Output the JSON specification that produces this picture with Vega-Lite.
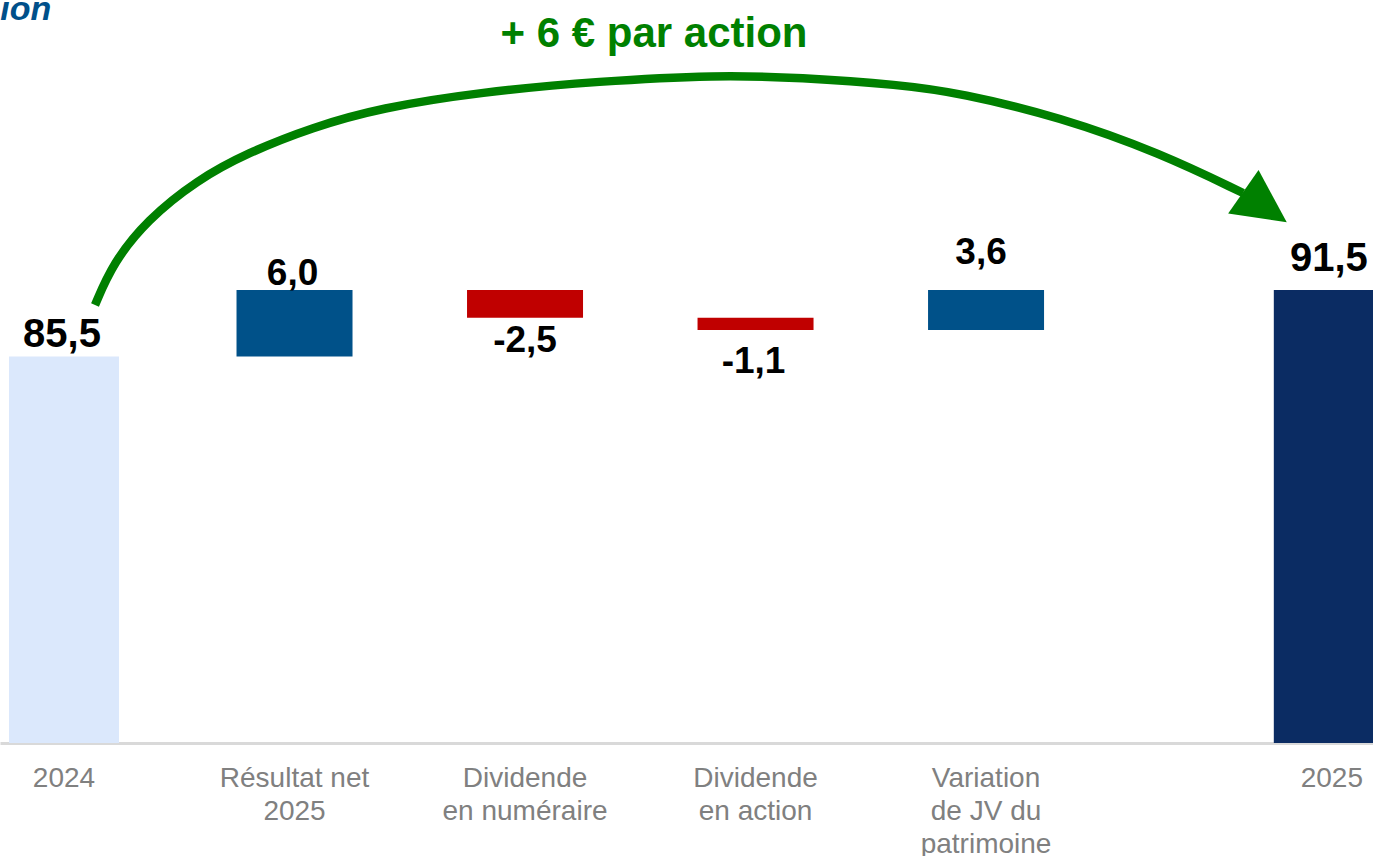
{
  "$schema": "https://vega.github.io/schema/vega-lite/v6.json",
  "width": 1373,
  "height": 743,
  "autosize": {"type": "none"},
  "padding": {"left": 0, "right": 0, "top": 0, "bottom": 113},
  "background": "white",
  "config": {"view": {"stroke": null}},
  "datasets": {
    "steps": [
      {"label": "2024", "pos": 0, "start": 0, "end": 85.5, "text": "85,5", "kind": "total_start"},
      {"label": "Résultat net\n2025", "pos": 1, "start": 85.5, "end": 91.5, "text": "6,0", "kind": "up"},
      {"label": "Dividende\nen numéraire", "pos": 2, "start": 91.5, "end": 89.0, "text": "-2,5", "kind": "down"},
      {"label": "Dividende\nen action", "pos": 3, "start": 89.0, "end": 87.9, "text": "-1,1", "kind": "down"},
      {"label": "Variation\nde JV du\npatrimoine", "pos": 4, "start": 87.9, "end": 91.5, "text": "3,6", "kind": "up"},
      {"label": "2025", "pos": 5.5, "start": 0, "end": 91.5, "text": "91,5", "kind": "total_end"}
    ],
    "arc": [
      {"x": 0.1345, "y": 90.16},
      {"x": 0.2126, "y": 93.95},
      {"x": 0.3601, "y": 97.83},
      {"x": 0.5770, "y": 101.44},
      {"x": 0.7939, "y": 103.88},
      {"x": 1.0803, "y": 106.23},
      {"x": 1.3709, "y": 107.95},
      {"x": 1.8048, "y": 109.39},
      {"x": 2.3254, "y": 110.38},
      {"x": 2.8330, "y": 110.93},
      {"x": 3.1931, "y": 110.70},
      {"x": 3.6269, "y": 110.05},
      {"x": 3.8872, "y": 109.30},
      {"x": 4.3210, "y": 107.13},
      {"x": 4.7549, "y": 103.88},
      {"x": 5.1150, "y": 100.27}
    ]
  },
  "encoding": {
    "x": {"type": "quantitative", "scale": {"domain": [-0.256, 5.657], "nice": false, "zero": false},
          "axis": {"labels": false, "ticks": false, "grid": false, "title": null, "domain": true, "domainColor": "#d9d9d9", "domainWidth": 3}},
    "y": {"type": "quantitative", "scale": {"domain": [50.6, 117.7], "nice": false, "zero": false}, "axis": null}
  },
  "layer": [
    {
      "data": {"name": "steps"},
      "transform": [{"filter": "datum.pos != 0"}],
      "mark": {"type": "bar", "width": 116, "clip": true},
      "encoding": {
        "x": {"field": "pos", "type": "quantitative"},
        "y": {"field": "start", "type": "quantitative"},
        "y2": {"field": "end"},
        "color": {"field": "kind", "type": "nominal", "legend": null,
                  "scale": {"domain": ["total_start", "up", "down", "total_end"], "range": ["#dbe8fc", "#005189", "#c00000", "#0b2c63"]}}
      }
    },
    {
      "data": {"name": "steps"},
      "transform": [{"filter": "datum.pos == 0"}],
      "mark": {"type": "bar", "width": 110, "clip": true},
      "encoding": {
        "x": {"field": "pos", "type": "quantitative"},
        "y": {"field": "start", "type": "quantitative"},
        "y2": {"field": "end"},
        "color": {"field": "kind", "type": "nominal", "legend": null}
      }
    },
    {
      "data": {"name": "steps"},
      "mark": {"type": "text", "baseline": "alphabetic", "align": "center", "lineBreak": "\n", "dy": 44, "lineHeight": 33, "font": "Liberation Sans", "fontSize": 28, "color": "#808080"},
      "encoding": {
        "x": {"field": "pos", "type": "quantitative"},
        "y": {"datum": 50.6},
        "text": {"field": "label"}
      }
    },
    {
      "data": {"name": "steps"},
      "transform": [{"filter": "datum.pos == 0"}],
      "mark": {"type": "text", "baseline": "alphabetic", "align": "center", "dy": -10, "dx": -2, "font": "Liberation Sans", "fontWeight": "bold", "fontSize": 40, "color": "#000000"},
      "encoding": {"x": {"field": "pos", "type": "quantitative"}, "y": {"field": "end", "type": "quantitative"}, "text": {"field": "text"}}
    },
    {
      "data": {"name": "steps"},
      "transform": [{"filter": "datum.pos == 5.5"}],
      "mark": {"type": "text", "baseline": "alphabetic", "align": "center", "dy": -19, "dx": -3, "font": "Liberation Sans", "fontWeight": "bold", "fontSize": 40, "color": "#000000"},
      "encoding": {"x": {"field": "pos", "type": "quantitative"}, "y": {"field": "end", "type": "quantitative"}, "text": {"field": "text"}}
    },
    {
      "data": {"name": "steps"},
      "transform": [{"filter": "datum.pos == 1"}],
      "mark": {"type": "text", "baseline": "alphabetic", "align": "center", "dy": -5, "dx": -2, "font": "Liberation Sans", "fontWeight": "bold", "fontSize": 37, "color": "#000000"},
      "encoding": {"x": {"field": "pos", "type": "quantitative"}, "y": {"field": "end", "type": "quantitative"}, "text": {"field": "text"}}
    },
    {
      "data": {"name": "steps"},
      "transform": [{"filter": "datum.pos == 4"}],
      "mark": {"type": "text", "baseline": "alphabetic", "align": "center", "dy": -26, "dx": -5, "font": "Liberation Sans", "fontWeight": "bold", "fontSize": 37, "color": "#000000"},
      "encoding": {"x": {"field": "pos", "type": "quantitative"}, "y": {"field": "end", "type": "quantitative"}, "text": {"field": "text"}}
    },
    {
      "data": {"name": "steps"},
      "transform": [{"filter": "datum.pos == 2"}],
      "mark": {"type": "text", "baseline": "alphabetic", "align": "center", "dy": 34, "font": "Liberation Sans", "fontWeight": "bold", "fontSize": 37, "color": "#000000"},
      "encoding": {"x": {"field": "pos", "type": "quantitative"}, "y": {"field": "end", "type": "quantitative"}, "text": {"field": "text"}}
    },
    {
      "data": {"name": "steps"},
      "transform": [{"filter": "datum.pos == 3"}],
      "mark": {"type": "text", "baseline": "alphabetic", "align": "center", "dy": 43, "dx": -2, "font": "Liberation Sans", "fontWeight": "bold", "fontSize": 37, "color": "#000000"},
      "encoding": {"x": {"field": "pos", "type": "quantitative"}, "y": {"field": "end", "type": "quantitative"}, "text": {"field": "text"}}
    },
    {
      "data": {"name": "arc"},
      "mark": {"type": "line", "interpolate": "basis", "color": "#008000", "strokeWidth": 8.5, "strokeCap": "butt"},
      "encoding": {"x": {"field": "x", "type": "quantitative"}, "y": {"field": "y", "type": "quantitative"}}
    },
    {
      "data": {"values": [{}]},
      "mark": {"type": "point", "shape": "M-1,-1L1,0L-1,1Z", "size": 2809, "angle": 35, "filled": true, "color": "#008000", "opacity": 1, "strokeWidth": 0},
      "encoding": {"x": {"datum": 5.2104}, "y": {"datum": 99.01}}
    },
    {
      "data": {"values": [{"t": "+ 6 € par action"}]},
      "mark": {"type": "text", "baseline": "alphabetic", "align": "center", "font": "Liberation Sans", "fontWeight": "bold", "fontSize": 42, "color": "#008000"},
      "encoding": {"x": {"datum": 2.5597}, "y": {"datum": 113.46}, "text": {"field": "t"}}
    },
    {
      "data": {"values": [{"t": "ion"}]},
      "mark": {"type": "text", "baseline": "alphabetic", "align": "right", "font": "Liberation Sans", "fontWeight": "bold", "fontStyle": "italic", "fontSize": 34, "color": "#00508a"},
      "encoding": {"x": {"datum": -0.055}, "y": {"datum": 115.89}, "text": {"field": "t"}}
    }
  ]
}
